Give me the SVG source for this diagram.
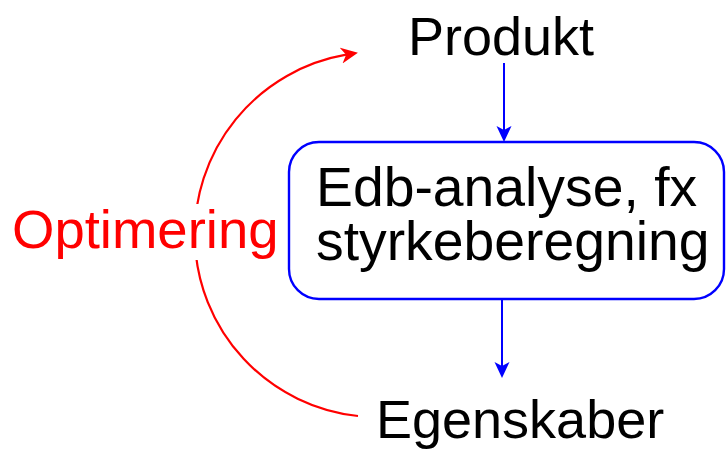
<svg xmlns="http://www.w3.org/2000/svg" width="726" height="449" viewBox="0 0 726 449">
  <style>
    .lbl { font-family: "Liberation Sans", Arial, sans-serif; font-size: 54px; fill: #000; }
    .big { font-size: 55.3px; }
    .red { fill: #ff0000; font-size: 54.5px; }
    .flow { stroke: #0000ff; stroke-width: 2; fill: none; }
    .loop { stroke: #ff0000; stroke-width: 2.2; fill: none; }
  </style>
  <defs>
    <marker id="arrowBlue" markerUnits="userSpaceOnUse" viewBox="0 -9 18 18" refX="4" refY="0" markerWidth="18" markerHeight="18" orient="auto">
      <path d="M0,-7.5 L16,0 L0,7.5 L4,0 Z" fill="#0000ff"/>
    </marker>
    <marker id="arrowRed" markerUnits="userSpaceOnUse" viewBox="0 -9 18 18" refX="5" refY="0" markerWidth="18" markerHeight="18" orient="auto">
      <path d="M0,-8 L17,0 L0,8 L5,0 Z" fill="#ff0000"/>
    </marker>
  </defs>

  <!-- connectors -->
  <g id="connectors">
    <path class="loop" d="M358,416 A182.5,182.5 0 0 1 346.1,54.7" marker-end="url(#arrowRed)"/>
    <line class="flow" x1="504" y1="63" x2="504" y2="130" marker-end="url(#arrowBlue)"/>
    <line class="flow" x1="502" y1="299" x2="502" y2="366" marker-end="url(#arrowBlue)"/>
  </g>

  <g id="optimering">
    <rect x="10" y="204" width="272" height="56" fill="#ffffff"/>
    <text class="lbl red" x="12" y="248">Optimering</text>
  </g>

  <g id="produkt">
    <text class="lbl" x="408" y="55">Produkt</text>
  </g>

  <g id="analyse">
    <rect x="289" y="142" width="435" height="157" rx="30" ry="30" fill="#ffffff" stroke="#0000ff" stroke-width="2.4"/>
    <text class="lbl big" x="316" y="206">Edb-analyse, fx</text>
    <text class="lbl big" x="316" y="260">styrkeberegning</text>
  </g>

  <g id="egenskaber">
    <text class="lbl" x="376" y="438">Egenskaber</text>
  </g>
</svg>
